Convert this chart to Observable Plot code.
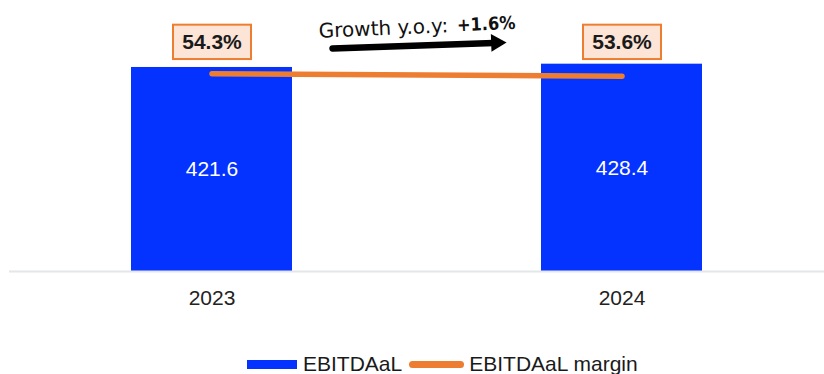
<!DOCTYPE html>
<html>
<head>
<meta charset="utf-8">
<script src="https://cdn.jsdelivr.net/npm/d3@7"></script>
<script src="https://cdn.jsdelivr.net/npm/@observablehq/plot@0.6"></script>
<style>
  html, body { margin: 0; padding: 0; background: #fff; }
  #wrap { position: relative; width: 824px; height: 374px; overflow: hidden; font-family: "Liberation Sans", Arial, sans-serif; }
  #wrap svg { display: block; }
  .legend { position: absolute; top: 351px; left: 247px; display: flex; align-items: center; height: 26px; font-size: 21px; line-height: 26px; color: #1a1a1a; white-space: nowrap; }
  .sw-bar { width: 50px; height: 9px; background: #0433ff; margin-right: 6px; }
  .sw-line { width: 55px; height: 7px; border-radius: 4px; background: #ed7d31; margin: 0 5px 0 7px; }
</style>
</head>
<body>
<div id="wrap"></div>
<script>
// ---- data ----
const years = ["2023", "2024"];
const ebitda = [421.6, 428.4];          // EBITDAaL (bars)
const marginPct = [54.3, 53.6];         // EBITDAaL margin, % (line, secondary axis)
const growthText = "Growth y.o.y: ";
const growthValue = "+1.6%";
const seriesNames = ["EBITDAaL", "EBITDAaL margin"];

// ---- scales ----
const yMax = 560;            // primary axis max
const marginAxisMax = 74.4;  // secondary (hidden) axis max for margin %
const toPrimary = m => m * yMax / marginAxisMax;

const data = years.map((y, i) => ({year: y, ebitda: ebitda[i], margin: marginPct[i]}));

const blue = "#0433ff", orange = "#ed7d31", peach = "#fce4d6";

const chart = Plot.plot({
  width: 824,
  height: 340,
  marginLeft: 9,
  marginRight: 0,
  marginTop: 0,
  marginBottom: 69,
  style: {fontFamily: "'Liberation Sans', Arial, sans-serif", color: "#222", background: "#fff"},
  x: {domain: years, paddingInner: 0.607, paddingOuter: 0.297, axis: null, label: null},
  y: {domain: [0, yMax], axis: null, label: null},
  marks: [
    Plot.barY(data, {x: "year", y: "ebitda", fill: blue}),
    Plot.ruleY([0], {stroke: "#e4e6e8", strokeWidth: 2}),
    Plot.axisX({tickSize: 0, tickPadding: 19, fontSize: 21, fill: "#222", label: null}),
    Plot.text(data, {x: "year", y: d => d.ebitda / 2, text: d => d.ebitda.toFixed(1), fill: "#fff", fontSize: 21}),
    Plot.line(data, {x: "year", y: d => toPrimary(d.margin), stroke: orange, strokeWidth: 5.5, strokeLinecap: "round"}),
    // margin labels in boxes
    Plot.barY(data, {x: "year", y1: 438, y2: 509, insetLeft: 42, insetRight: 41, fill: peach, stroke: orange, strokeWidth: 2}),
    Plot.text(data, {x: "year", y: 473.5, text: d => d.margin.toFixed(1) + "%", fontWeight: "bold", fontSize: 21, fill: "#1a1a1a"}),
    // growth annotation
    Plot.text([growthText], {y: 508.4, dx: 37.5, text: d => d, textAnchor: "end", rotate: -2.5, fontSize: 20, fontFamily: "'DejaVu Sans', Verdana, sans-serif", fill: "#111"}),
    Plot.text([growthValue], {y: 508.4, dx: 40, text: d => d, textAnchor: "start", rotate: -2.5, fontSize: 18, fontWeight: "bold", fontFamily: "'DejaVu Sans Condensed', 'DejaVu Sans', sans-serif", fill: "#111"}),
    Plot.arrow([0], {x1: () => years[0], x2: () => years[1], y1: 452.2, y2: 481.6, insetStart: 120.6, insetEnd: 128.5, headLength: 0, stroke: "#000", strokeWidth: 6.5}),
    Plot.dot([0], {x: () => years[1], y: 472.6, dx: -125.7, symbol: "triangle", r: 6.6, fill: "#000", stroke: "none", rotate: 88})
  ]
});

const wrap = document.getElementById("wrap");
wrap.appendChild(chart);

const legend = document.createElement("div");
legend.className = "legend";
legend.innerHTML = `<span class="sw-bar"></span><span>${seriesNames[0]}</span><span class="sw-line"></span><span>${seriesNames[1]}</span>`;
wrap.appendChild(legend);
</script>
</body>
</html>
